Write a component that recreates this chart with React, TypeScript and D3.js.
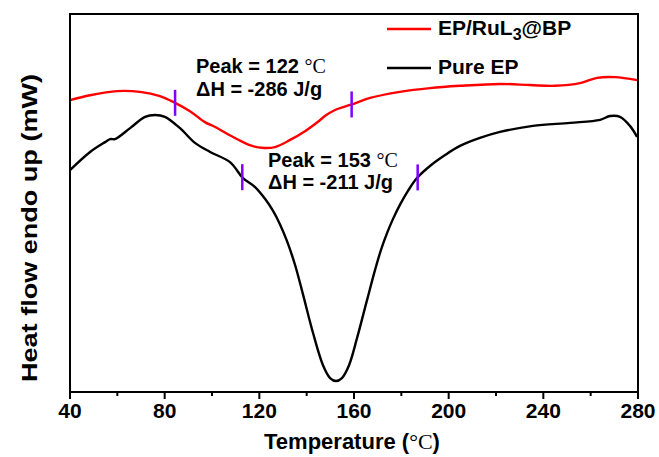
import React from "react";
import * as d3 from "d3";

// Temperature (°C) and heat flow (arbitrary mW units)
const redT = [40, 48.5, 59.9, 69.6, 78, 84.4, 90.7, 97, 101.3, 109.7, 116, 121.1, 126.6, 133, 139.3, 145.6, 147.7, 152, 158.7, 166.8, 179.4, 192.1, 204.8, 221.7, 234.4, 244.9, 255.5, 262.7, 270.3, 279.6];
const redV = [77.2, 78.5, 79.6, 79.4, 78.3, 76.5, 74.3, 71.4, 70.1, 67.2, 65.3, 64.6, 64.8, 66.7, 69.0, 71.9, 73.0, 74.6, 76.0, 77.8, 79.4, 80.4, 81.0, 81.5, 81.2, 81.0, 81.7, 83.1, 83.3, 82.5];

const blackT = [40, 48.5, 54.8, 57, 59, 65.4, 71.7, 76, 80.1, 86.5, 92.8, 99.2, 107.6, 113.1, 118.2, 122.4, 125.8, 128.7, 131.7, 135.1, 138.5, 142.7, 146.9, 149.9, 152.4, 154.9, 157.9, 161.3, 165.5, 168.9, 171.4, 174, 176.5, 179.4, 182.8, 186.6, 192.1, 198.5, 204.8, 213.2, 221.7, 235.6, 251.3, 264, 268.2, 272.4, 276.6, 279.6];
const blackV = [58.7, 63.5, 66.1, 66.9, 66.9, 69.8, 72.8, 73.3, 72.8, 69.8, 65.9, 63.5, 60.8, 56.6, 54.2, 51.1, 47.9, 44.4, 39.9, 33.6, 25.7, 15.6, 7.1, 3.7, 2.9, 3.7, 7.1, 14.3, 24.3, 32.3, 37.6, 42.1, 45.8, 49.5, 53.2, 56.6, 59.8, 62.7, 65.1, 67.2, 68.8, 70.4, 71.2, 72.0, 73.0, 72.8, 70.4, 67.5];

// integration limits marked on each curve
const redMarkT = [84.4, 159];
const blackMarkT = [112.8, 186.9];

const xTicks = [40, 80, 120, 160, 200, 240, 280];
const xMinorTicks = [60, 100, 140, 180, 220, 260];

const seriesNames = ["EP/RuL", "Pure EP"];

const W = 659, H = 457;
const L = 70, R = 638, T = 14, B = 392;

export default function App() {
  const x = d3.scaleLinear().domain([40, 280]).range([L, R]);
  const y = d3.scaleLinear().domain([0, 100]).range([B, T]);
  const line = d3
    .line<[number, number]>()
    .x((d) => x(d[0]))
    .y((d) => y(d[1]))
    .curve(d3.curveCatmullRom.alpha(0.5));
  const red: [number, number][] = redT.map((t, i) => [t, redV[i]]);
  const black: [number, number][] = blackT.map((t, i) => [t, blackV[i]]);
  const interp = (ts: number[], vs: number[], t: number) => {
    const i = d3.bisectRight(ts, t) - 1;
    const f = (t - ts[i]) / (ts[i + 1] - ts[i]);
    return vs[i] + f * (vs[i + 1] - vs[i]);
  };
  const bold = { fontFamily: "'Liberation Sans', Arial, sans-serif", fontWeight: 700 } as const;
  const serif = { fontFamily: "'Liberation Serif', 'Times New Roman', serif", fontWeight: 400 } as const;
  const purple = "#7F00FF";

  return (
    <svg width={W} height={H} style={{ position: "absolute", left: 0, top: 0, background: "#fff" }}>
      <rect x={0} y={0} width={W} height={H} fill="#fff" />
      <path d={line(red) || ""} fill="none" stroke="#FF0000" strokeWidth={2.4} />
      <path d={line(black) || ""} fill="none" stroke="#000" strokeWidth={2.4} />
      {redMarkT.map((t) => {
        const cy = y(interp(redT, redV, t));
        return <line key={"r" + t} x1={x(t)} x2={x(t)} y1={cy - 13} y2={cy + 13} stroke={purple} strokeWidth={2.5} />;
      })}
      {blackMarkT.map((t) => {
        const cy = y(interp(blackT, blackV, t));
        return <line key={"b" + t} x1={x(t)} x2={x(t)} y1={cy - 13} y2={cy + 13} stroke={purple} strokeWidth={2.5} />;
      })}
      {/* frame */}
      <rect x={L} y={T} width={R - L} height={B - T} fill="none" stroke="#000" strokeWidth={2} />
      {xTicks.map((t) => (
        <g key={t}>
          <line x1={x(t)} x2={x(t)} y1={B} y2={B + 7} stroke="#000" strokeWidth={2} />
          <text x={x(t)} y={418} textAnchor="middle" fontSize={21} {...bold}>{t}</text>
        </g>
      ))}
      {xMinorTicks.map((t) => (
        <line key={t} x1={x(t)} x2={x(t)} y1={B} y2={B + 4} stroke="#000" strokeWidth={2} />
      ))}
      <text x={352} y={449} textAnchor="middle" fontSize={22} {...bold}>
        Temperature (<tspan {...serif}>°C</tspan>)
      </text>
      <text transform="translate(37,228) rotate(-90)" textAnchor="middle" fontSize={22} {...bold} textLength={308} lengthAdjust="spacingAndGlyphs">
        Heat flow endo up (mW)
      </text>
      {/* legend */}
      <line x1={387} x2={431} y1={29} y2={29} stroke="#FF0000" strokeWidth={2.4} />
      <text x={438} y={35} fontSize={21} {...bold}>
        {seriesNames[0]}<tspan fontSize={16} dy={5}>3</tspan><tspan dy={-5}>@BP</tspan>
      </text>
      <line x1={387} x2={431} y1={68} y2={68} stroke="#000" strokeWidth={2.4} />
      <text x={438} y={74} fontSize={21} {...bold}>{seriesNames[1]}</text>
      {/* annotations */}
      <text x={196} y={73} fontSize={20} {...bold}>
        Peak = 122 <tspan {...serif}>°C</tspan>
      </text>
      <text x={196} y={96} fontSize={20} {...bold}>ΔH = -286 J/g</text>
      <text x={268} y={167} fontSize={20} {...bold}>
        Peak = 153 <tspan {...serif}>°C</tspan>
      </text>
      <text x={268} y={189} fontSize={20} {...bold}>ΔH = -211 J/g</text>
    </svg>
  );
}
